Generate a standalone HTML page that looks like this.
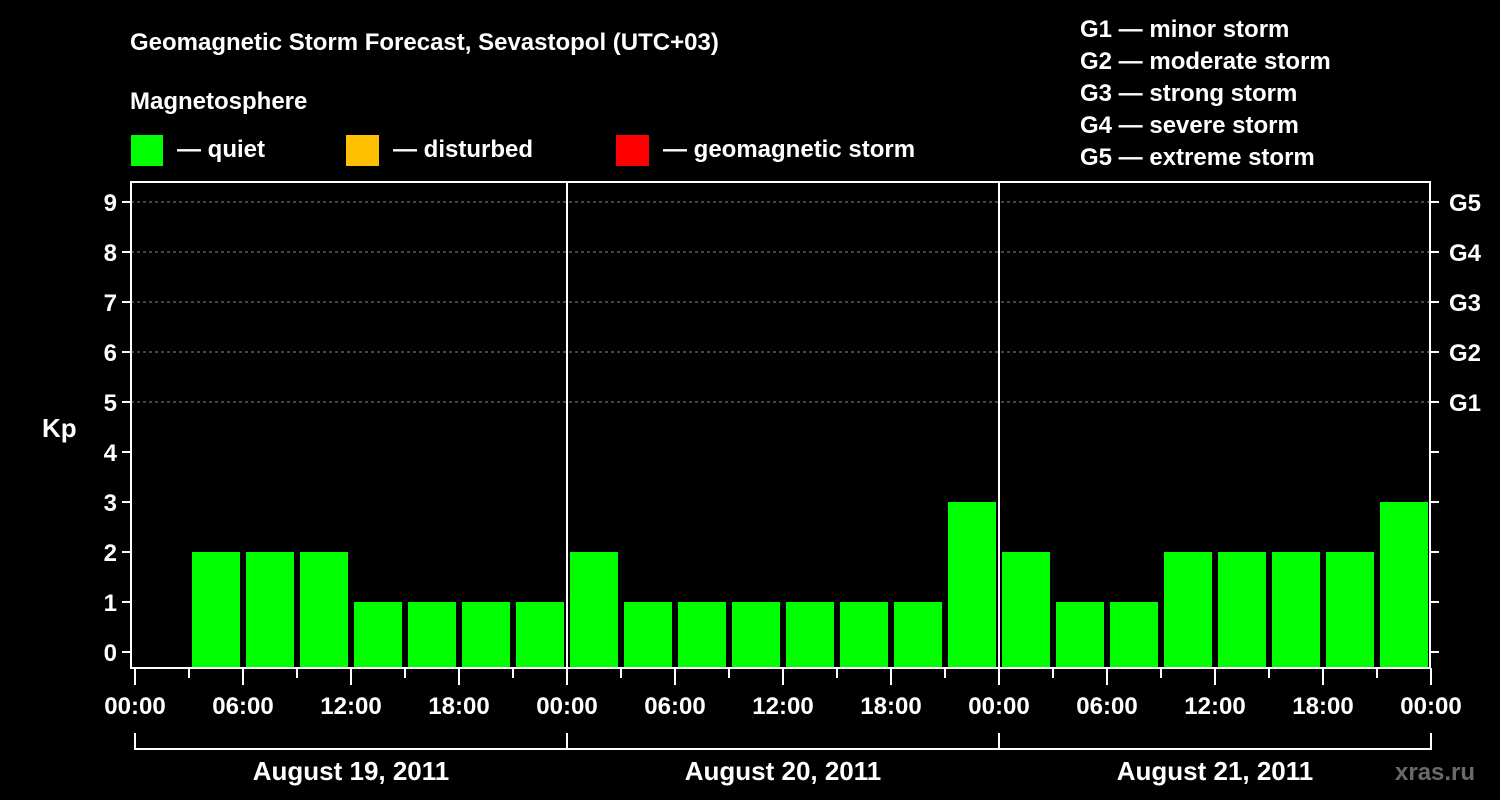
<!DOCTYPE html>
<html><head><meta charset="utf-8"><style>
body{margin:0;background:#000;width:1500px;height:800px;overflow:hidden}
svg{display:block}
text{font-family:"Liberation Sans",sans-serif;font-weight:bold;fill:#fff}
</style></head><body>
<svg id="c" width="1500" height="800">
<text x="130" y="50" font-size="24">Geomagnetic Storm Forecast, Sevastopol (UTC+03)</text>
<text x="130" y="109" font-size="24">Magnetosphere</text>
<g><rect x="131" y="135" width="32" height="31" fill="#00ff00"/><text x="177" y="157" font-size="24">— quiet</text></g>
<g><rect x="346" y="135" width="33" height="31" fill="#ffc000"/><text x="393" y="157" font-size="24">— disturbed</text></g>
<g><rect x="616" y="135" width="33" height="31" fill="#ff0000"/><text x="663" y="157" font-size="24">— geomagnetic storm</text></g>
<g font-size="24">
<text x="1080" y="37">G1 — minor storm</text><text x="1080" y="69">G2 — moderate storm</text><text x="1080" y="101">G3 — strong storm</text><text x="1080" y="133">G4 — severe storm</text><text x="1080" y="165">G5 — extreme storm</text></g>
<text x="42" y="437" font-size="26">Kp</text>
<g id="plot"></g>
<text x="1395" y="780" font-size="24" fill="#666" style="fill:#6a6a6a">xras.ru</text>
</svg>
<script>
const days=["August 19, 2011","August 20, 2011","August 21, 2011"];
const kpDay1=[null,2,2,2,1,1,1,1];
const kpDay2=[2,1,1,1,1,1,1,3];
const kpDay3=[2,1,1,2,2,2,2,3];
const yTicks=[0,1,2,3,4,5,6,7,8,9];
const gLabels={5:"G1",6:"G2",7:"G3",8:"G4",9:"G5"};
const hourLabels=["00:00","06:00","12:00","18:00"];
const NS="http://www.w3.org/2000/svg";
const g=document.getElementById('plot');
const L=131,R=1430,T=182,B=668,X0=135,DAYW=432;
const y=v=>652-v*50;
const x=h=>X0+h*DAYW/24;
function el(t,a,p){const e=document.createElementNS(NS,t);for(const k in a)e.setAttribute(k,a[k]);(p||g).appendChild(e);return e;}
// grid
yTicks.forEach(v=>{if(v>=5){const l=el('line',{x1:L,x2:R,y1:y(v),y2:y(v),stroke:'#888','stroke-dasharray':'3,3','stroke-width':1});

}});
// bars
[kpDay1,kpDay2,kpDay3].forEach((arr,d)=>arr.forEach((v,i)=>{if(v===null)return;
const h0=d*24+i*3;const r=el('rect',{x:x(h0)+3,y:y(v),width:x(h0+3)-x(h0)-6,height:B-y(v),fill:v>=5?'#ff0000':v>=4?'#ffc000':'#00ff00'});

}));
// day separators
[1,2].forEach(d=>{const l=el('line',{x1:x(d*24),x2:x(d*24),y1:T,y2:B,stroke:'#fff','stroke-width':2});

});
// frame
const f=el('rect',{x:L,y:T,width:R-L,height:B-T,fill:'none',stroke:'#fff','stroke-width':2});


// y ticks
yTicks.forEach(v=>{el('line',{x1:L-9,x2:L,y1:y(v),y2:y(v),stroke:'#fff','stroke-width':2});
el('line',{x1:R,x2:R+9,y1:y(v),y2:y(v),stroke:'#fff','stroke-width':2});
const t=el('text',{x:L-14,y:y(v)+9,'font-size':24,'text-anchor':'end'});t.textContent=v;


if(gLabels[v]){const s=el('text',{x:R+19,y:y(v)+9,'font-size':24});s.textContent=gLabels[v];

}});
// x ticks
for(let h=0;h<=72;h+=3){const maj=h%6===0;el('line',{x1:x(h),x2:x(h),y1:B,y2:B+(maj?17:10),stroke:'#fff','stroke-width':2});
if(maj){const t=el('text',{x:x(h),y:714,'font-size':24,'text-anchor':'middle'});t.textContent=hourLabels[(h%24)/6];

}}
// day brackets
el('line',{x1:x(0),x2:x(72),y1:749,y2:749,stroke:'#fff','stroke-width':2});
for(let d=0;d<=3;d++)el('line',{x1:x(d*24),x2:x(d*24),y1:733,y2:750,stroke:'#fff','stroke-width':2});
days.forEach((s,d)=>{const t=el('text',{x:x(d*24+12),y:780,'font-size':26,'text-anchor':'middle'});t.textContent=s;

});
</script>
</body></html>
